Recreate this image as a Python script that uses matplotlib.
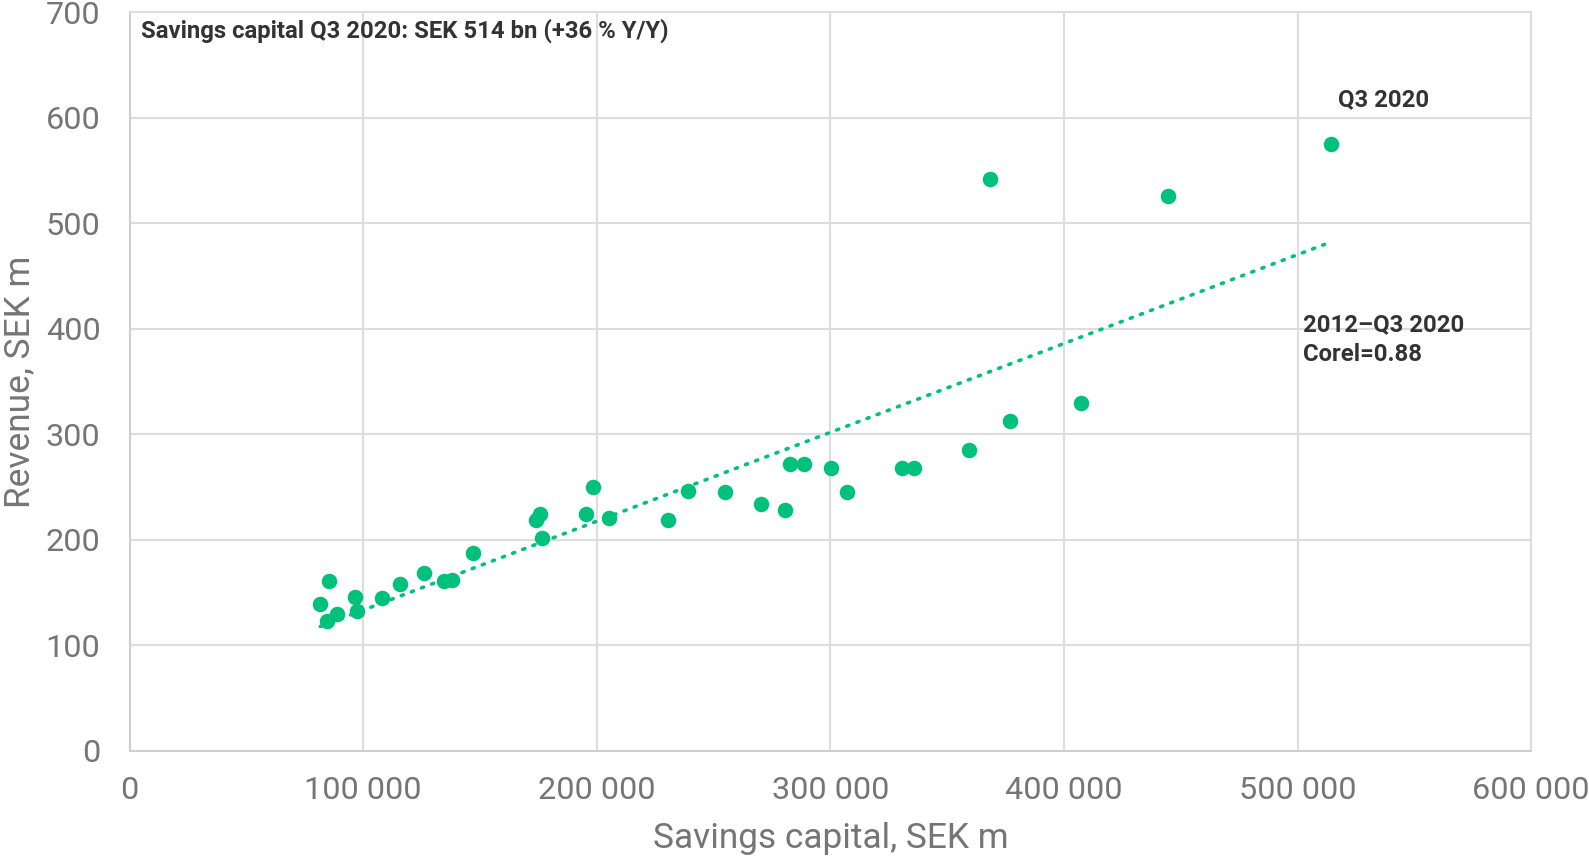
import matplotlib.pyplot as plt
from matplotlib.ticker import FuncFormatter

# === Data ===
savings_capital = [81600, 85500, 84600, 88900, 96300, 97200, 108000, 115800,
                   126200, 134500, 138000, 147100, 174000, 175700, 176600,
                   195200, 198300, 205200, 230400, 239000, 254700, 270300,
                   280700, 282900, 288500, 300200, 307200, 330600, 335800,
                   359200, 368300, 377000, 407400, 444700, 514500]
revenue = [139, 161, 123, 130, 146, 133, 145, 158,
           169, 161, 162, 188, 219, 225, 202,
           225, 250, 221, 219, 246, 245, 234,
           228, 272, 272, 268, 245, 268, 268,
           285, 542, 313, 330, 526, 575]

trend_x = [81600, 511500]
trend_y = [118, 480]

x_ticks = [0, 100000, 200000, 300000, 400000, 500000, 600000]
y_ticks = [0, 100, 200, 300, 400, 500, 600, 700]

green = "#00C17C"
grey_text = "#757575"
grid_col = "#DDDDDD"
dark = "#333333"

plt.rcParams["font.family"] = ["Roboto", "DejaVu Sans"]

# === Plot ===
fig = plt.figure(figsize=(15.89, 8.56), dpi=100)
ax = fig.add_axes([0.0816, 0.1227, 0.882, 0.863])

ax.scatter(savings_capital, revenue, s=125, color=green, zorder=3, linewidths=0)
ax.plot(trend_x, trend_y, color=green, linewidth=2.6, linestyle=(0, (0.6, 2.4)),
        dash_capstyle="round", zorder=2)

ax.set_xlim(0, 600000)
ax.set_ylim(0, 700)
ax.set_xticks(x_ticks)
ax.set_yticks(y_ticks)
ax.xaxis.set_major_formatter(FuncFormatter(lambda v, p: f"{int(v):,}".replace(",", " ")))

ax.grid(True, color=grid_col, linewidth=1.5, zorder=0)
ax.set_axisbelow(True)
for side in ["top", "right"]:
    ax.spines[side].set_color(grid_col)
    ax.spines[side].set_linewidth(1.5)
for side in ["left", "bottom"]:
    ax.spines[side].set_color("#CFCFCF")
    ax.spines[side].set_linewidth(1.5)

ax.tick_params(length=0, labelsize=23.3, labelcolor=grey_text)
ax.tick_params(axis="x", pad=18)
ax.tick_params(axis="y", pad=21)
ax.set_xlabel("Savings capital, SEK m", fontsize=25.4, color=grey_text, labelpad=12)
ax.set_ylabel("Revenue, SEK m", fontsize=25.4, color=grey_text, labelpad=7)

# Annotations
ax.text(5000, 682, "Savings capital Q3 2020: SEK 514 bn (+36 % Y/Y)",
        fontsize=17.2, fontweight="bold", color=dark, va="center", ha="left")
ax.text(517500, 617, "Q3 2020", fontsize=17.2, fontweight="bold", color=dark,
        va="center", ha="left")
ax.text(502500, 390, "2012\u2013Q3 2020\nCorel=0.88", fontsize=17.2, fontweight="bold",
        color=dark, va="center", ha="left", linespacing=1.35)

fig.savefig("out.png", dpi=100)
